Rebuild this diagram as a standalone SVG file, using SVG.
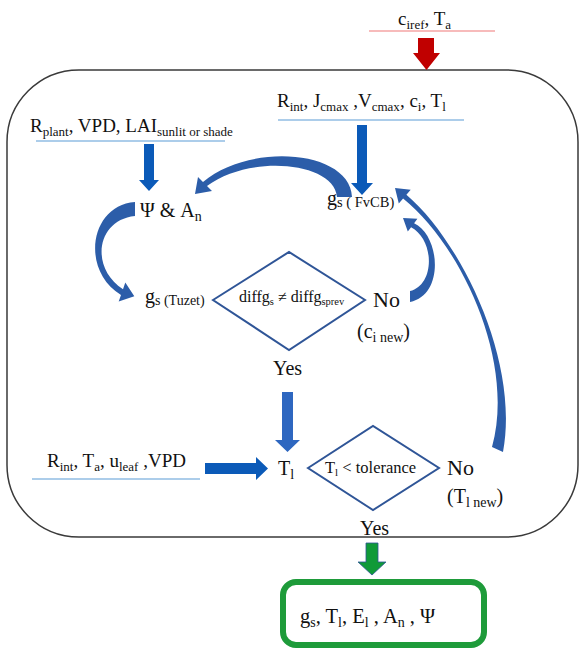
<svg xmlns="http://www.w3.org/2000/svg" width="579" height="650" viewBox="0 0 579 650" font-family="'Liberation Serif', 'Times New Roman', 'DejaVu Serif', serif">
<style>
text{font-family:'Liberation Serif','Times New Roman','DejaVu Serif',serif;fill:#111;}
.m19{font-size:19px;}
.m20{font-size:20px;}
.m22{font-size:22px;}
.ul{stroke:#5B9BD5;stroke-width:1.2;}
.dia{fill:#fff;stroke:#2F5597;stroke-width:2;}
.ba{fill:#0B5AB8;}
.ca{fill:#2C5DA9;}
</style>
<rect width="579" height="650" fill="#fff"/>
<g id="loop-frame">
<rect x="7" y="70" width="571" height="467" rx="72" ry="72" fill="none" stroke="#3A3A3A" stroke-width="1.5"/>
</g>
<g id="input-ciref">
<text class="m19" x="398" y="25" font-family="Liberation Serif, serif">c<tspan font-size="13" dy="4">iref</tspan><tspan dy="-4">, T</tspan><tspan font-size="13" dy="4">a</tspan></text>
<line x1="369" y1="31" x2="495" y2="31" stroke="#F4A5A5" stroke-width="1.5"/>
</g>
<g id="input-rplant">
<text class="m19" x="30" y="132" font-family="Liberation Serif, serif">R<tspan font-size="13" dy="4">plant</tspan><tspan dy="-4">, VPD, LAI</tspan><tspan font-size="13" dy="4">sunlit or shade</tspan></text>
<line class="ul" x1="36" y1="141" x2="225" y2="141"/>
</g>
<g id="input-rint">
<text class="m19" x="277" y="107" font-family="Liberation Serif, serif">R<tspan font-size="13" dy="4">int</tspan><tspan dy="-4">, J</tspan><tspan font-size="13" dy="4">cmax</tspan><tspan dy="-4"> ,V</tspan><tspan font-size="13" dy="4">cmax</tspan><tspan dy="-4">, c</tspan><tspan font-size="13" dy="4">i</tspan><tspan dy="-4">, T</tspan><tspan font-size="13" dy="4">l</tspan></text>
<line class="ul" x1="278" y1="120" x2="464" y2="120"/>
</g>
<g id="psi-an">
<text class="m20" x="140" y="217" font-family="Liberation Serif, serif">Ψ &amp; A<tspan font-size="14" dy="4">n</tspan></text>
</g>
<g id="gs-fvcb">
<text class="m20" x="327" y="205" font-family="Liberation Serif, serif">g<tspan font-size="14.5" dy="2">s ( FvCB)</tspan></text>
</g>
<g id="gs-tuzet">
<text class="m20" x="145" y="303" font-family="Liberation Serif, serif">g<tspan font-size="14" dy="2">s (Tuzet)</tspan></text>
</g>
<g id="decision-gs">
<polygon class="dia" points="213,300 289,252 365,300 289,350"/>
<text x="239" y="302" font-size="16" font-family="Liberation Serif, serif">diffg<tspan font-size="10.5" dy="3">s</tspan><tspan dy="-3"> ≠ diffg</tspan><tspan font-size="10.5" dy="3">sprev</tspan></text>
<text class="m22" x="373" y="307" font-family="Liberation Serif, serif">No</text>
<text class="m20" x="357" y="338" font-family="Liberation Serif, serif">(c<tspan font-size="14" dy="4">i new</tspan><tspan dy="-4">)</tspan></text>
<text class="m20" x="273" y="375" font-family="Liberation Serif, serif">Yes</text>
</g>
<g id="input-rint-ta">
<text class="m19" x="47" y="467" font-family="Liberation Serif, serif">R<tspan font-size="13" dy="4">int</tspan><tspan dy="-4">, T</tspan><tspan font-size="13" dy="4">a</tspan><tspan dy="-4">, u</tspan><tspan font-size="13" dy="4">leaf</tspan><tspan dy="-4"> ,VPD</tspan></text>
<line class="ul" x1="32" y1="479" x2="200" y2="479"/>
</g>
<g id="tl">
<text class="m20" x="278" y="475" font-family="Liberation Serif, serif">T<tspan font-size="14" dy="4">l</tspan></text>
</g>
<g id="decision-tl">
<polygon class="dia" points="308,468 373,426 439,468 373,510"/>
<text x="325" y="473" font-size="16.5" font-family="Liberation Serif, serif">T<tspan font-size="11" dy="3">l</tspan><tspan dy="-3"> &lt; tolerance</tspan></text>
<text class="m22" x="447" y="475" font-family="Liberation Serif, serif">No</text>
<text class="m20" x="447" y="503" font-family="Liberation Serif, serif">(T<tspan font-size="14" dy="4">l new</tspan><tspan dy="-4">)</tspan></text>
<text class="m20" x="360" y="535" font-family="Liberation Serif, serif">Yes</text>
</g>
<g id="output">
<rect x="283" y="582" width="201" height="63" rx="13" ry="13" fill="#fff" stroke="#1E9B3A" stroke-width="6"/>
<text x="300" y="623" font-size="20.5" font-family="Liberation Serif, serif">g<tspan font-size="14" dy="4">s</tspan><tspan dy="-4">, T</tspan><tspan font-size="14" dy="4">l</tspan><tspan dy="-4">, E</tspan><tspan font-size="14" dy="4">l</tspan><tspan dy="-4"> , A</tspan><tspan font-size="14" dy="4">n</tspan><tspan dy="-4"> , Ψ</tspan></text>
</g>
<g id="connectors">
<polygon fill="#C00000" points="418,38 434,38 434,53 440,53 426.5,70 413,53 418,53"/>
<polygon class="ba" points="144,144 154,144 154,180 159,180 149,191 139,180 144,180"/>
<polygon class="ba" points="357,125 367,125 367,183 373,183 362,195 351,183 357,183"/>
<polygon fill="#2E67C0" points="282,392 293,392 293,440 300,440 287.5,452 275,440 282,440"/>
<polygon class="ba" points="205,463 256,463 256,457 268,468.5 256,480 256,474 205,474"/>
<polygon fill="#109A38" stroke="#2F5597" stroke-width="0.8" points="366,543 378,543 378,562 386,562 372,575 358,562 366,562"/>
<path class="ca" d="M352,197 C350,150 250,142 203,182 L198,177 L195,194 L212,191 L207,186 C250,154 334,162 337,197 Z"/>
<path class="ca" d="M135,202 C90,205 80,270 121,295 L118.7,301.4 L134.3,296.3 L125.3,282.6 L123,289.2 C90,268 96,220 135,216 Z"/>
<path class="ca" d="M410,302 C445,295 440,235 414.1,223.2 L417.4,218.8 L403,218 L407.8,231.6 L411.1,227.2 C435,240 435,285 410,291 Z"/>
<path class="ca" d="M503,452 C520,360 460,240 406.4,194.7 L410.7,189.8 L395,188 L398.8,203.4 L403.1,198.5 C460,244 516,360 492,447 Z"/>
</g>
</svg>
